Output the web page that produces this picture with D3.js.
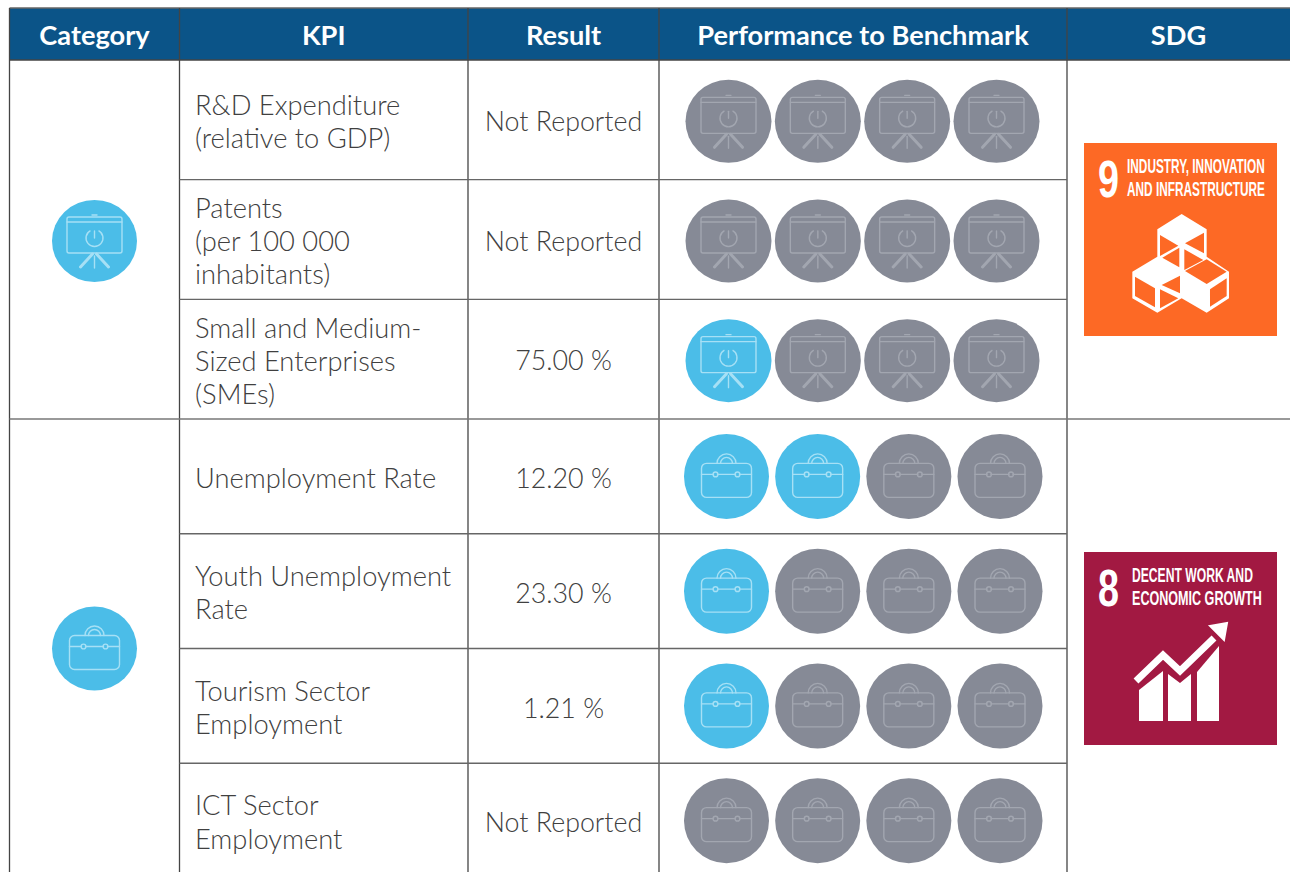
<!DOCTYPE html>
<html>
<head>
<meta charset="utf-8">
<style>
    html, body { margin: 0; padding: 0; background: #fff; overflow: hidden; }
    svg { display: block; font-family: Lato, "Open Sans", sans-serif; }
</style>
<script src="https://cdn.jsdelivr.net/npm/d3@7"></script>
</head>
<body>
<svg width="1290" height="872"></svg>
<script>
var headers = ['Category', 'KPI', 'Result', 'Performance to Benchmark', 'SDG'];

var kpiLines = [
    ['R&D Expenditure', '(relative to GDP)'],
    ['Patents', '(per 100 000', 'inhabitants)'],
    ['Small and Medium-', 'Sized Enterprises', '(SMEs)'],
    ['Unemployment Rate'],
    ['Youth Unemployment', 'Rate'],
    ['Tourism Sector', 'Employment'],
    ['ICT Sector', 'Employment']
];
var kpiResults = ['Not Reported', 'Not Reported', '75.00 %', '12.20 %', '23.30 %', '1.21 %', 'Not Reported'];
var kpiScores = [0, 0, 1, 2, 1, 1, 0];
var kpiGroups = [0, 0, 0, 1, 1, 1, 1];

var groupIcons = ['screen', 'briefcase'];
var sdgNumbers = ['9', '8'];
var sdgTitles = [
    ['INDUSTRY, INNOVATION', 'AND INFRASTRUCTURE'],
    ['DECENT WORK AND', 'ECONOMIC GROWTH']
];
var sdgColors = ['#fd6925', '#a21942'];
var ratingSlots = [0, 1, 2, 3];

var colEdges = [9.5, 179.5, 468, 659, 1067, 1290];
var headerTop = 8, headerBottom = 60;
var groupEdges = [[60, 419], [419, 878]];

var blue = '#4bbde8', grey = '#868a96', inkColor = '#404040', lineColor = '#444';
var circleRx = [43, 42.5], circleRy = [41.5, 42.5];
var kpiShift = [10, 11.2], resultShift = [9.5, 11.8];

var svg = d3.select('svg');

// one y scale per block of rows, the blocks are not the same row height
var yScales = groupEdges.map(function (range, g) {
    var rows = d3.range(kpiGroups.length).filter(function (i) { return kpiGroups[i] === g; });
    return d3.scaleBand().domain(rows).range(range);
});
var slotX = [
    d3.scalePoint().domain(ratingSlots).range([728.5, 996.5]),
    d3.scalePoint().domain(ratingSlots).range([726.5, 1000])
];
var slotYOffset = [1.5, 0];

function rowMid(i) {
    var y = yScales[kpiGroups[i]];
    return y(i) + y.bandwidth() / 2 + slotYOffset[kpiGroups[i]];
}
function groupMid(g) {
    return (groupEdges[g][0] + groupEdges[g][1]) / 2;
}

// squeeze a text to a given width, the tiles use a condensed face we do not have
function fitWidth(sel, width) {
    sel.each(function () {
        var el = d3.select(this);
        var natural = this.getComputedTextLength();
        el.attr('transform', 'translate(' + el.attr('data-x') + ',' + el.attr('data-y') + ') scale(' + width / natural + ',1)');
    });
}

// header band
svg.append('rect')
    .attr('x', colEdges[0]).attr('y', headerTop)
    .attr('width', 1290 - colEdges[0]).attr('height', headerBottom - headerTop)
    .attr('fill', '#0b5488');

svg.selectAll('.head').data(headers).enter().append('text')
    .attr('class', 'head')
    .attr('x', function (d, i) { return (colEdges[i] + colEdges[i + 1]) / 2; })
    .attr('y', 45)
    .attr('text-anchor', 'middle')
    .attr('fill', '#fff')
    .style('font-size', '27.2px')
    .style('font-weight', 700)
    .text(function (d) { return d; });

// grid
var grid = svg.append('g').attr('fill', 'none').attr('stroke', lineColor).attr('stroke-width', 1.3);
grid.append('path').attr('d', 'M' + colEdges[0] + ',' + headerTop + 'H1290').attr('stroke', '#666');
grid.append('path').attr('d', 'M' + colEdges[0] + ',' + headerBottom + 'H1290');
colEdges.slice(0, 5).forEach(function (x) {
    grid.append('path').attr('d', 'M' + x + ',' + headerTop + 'V872');
});
kpiGroups.forEach(function (g, i) {
    if (i === 0) return;
    var y = yScales[g](i);
    if (kpiGroups[i - 1] !== g) {
        grid.append('path').attr('d', 'M' + colEdges[0] + ',' + y + 'H1290').attr('stroke', '#777');
    } else {
        grid.append('path').attr('d', 'M' + colEdges[1] + ',' + y + 'H' + colEdges[4]).attr('stroke', '#666');
    }
});

// KPI labels
kpiLines.forEach(function (lines, i) {
    var base = rowMid(i) + kpiShift[kpiGroups[i]] - (lines.length - 1) * 16.5;
    svg.append('g').selectAll('text').data(lines).enter().append('text')
        .attr('x', 195)
        .attr('y', function (d, k) { return base + k * 33.2; })
        .attr('fill', inkColor)
        .style('font-size', '27.3px')
        .style('font-weight', 300)
        .text(function (d) { return d; });
});

svg.selectAll('.result').data(kpiResults).enter().append('text')
    .attr('class', 'result')
    .attr('x', (colEdges[2] + colEdges[3]) / 2)
    .attr('y', function (d, i) { return rowMid(i) + resultShift[kpiGroups[i]]; })
    .attr('text-anchor', 'middle')
    .attr('fill', inkColor)
    .style('font-size', '26.8px')
    .style('font-weight', 300)
    .text(function (d) { return d; });

function drawIcon(sel, kind, stroke) {
    var g = sel.append('g').attr('fill', 'none').attr('stroke', stroke).attr('stroke-width', 1.4)
        .attr('stroke-linecap', 'round');
    if (kind === 'screen') {
        g.append('rect').attr('x', -27.5).attr('y', -24).attr('width', 55).attr('height', 36).attr('rx', 2);
        g.append('path').attr('d', 'M-27.5,-19H27.5M-2.5,-26H2.5');
        g.append('path').attr('d', d3.arc()({ innerRadius: 8.5, outerRadius: 8.5, startAngle: 0.5, endAngle: 2 * Math.PI - 0.5 }))
            .attr('transform', 'translate(0,-3)');
        g.append('path').attr('d', 'M0,-10V-3');
        g.append('path').attr('d', 'M-2,13L-14,26M2,13L14,26').attr('stroke-width', 3);
        g.append('path').attr('d', 'M0,15V27');
    } else {
        g.append('rect').attr('x', -25).attr('y', -13).attr('width', 50).attr('height', 34).attr('rx', 5);
        g.append('path').attr('d', 'M-25,-2H-13M-9,-2H9M13,-2H25');
        g.append('circle').attr('cx', -11).attr('cy', -2).attr('r', 2.4);
        g.append('circle').attr('cx', 11).attr('cy', -2).attr('r', 2.4);
        g.append('path').attr('d', 'M-9.5,-13A9.5,9.5 0 0 1 9.5,-13M-6,-13A6,6 0 0 1 6,-13');
    }
}

// rating circles
kpiScores.forEach(function (score, i) {
    var g = kpiGroups[i];
    var cells = svg.append('g').selectAll('g').data(ratingSlots).enter().append('g')
        .attr('transform', function (s) { return 'translate(' + slotX[g](s) + ',' + rowMid(i) + ')'; });
    cells.append('ellipse')
        .attr('rx', circleRx[g])
        .attr('ry', circleRy[g])
        .attr('fill', function (s) { return s < score ? blue : grey; });
    cells.each(function (s) {
        drawIcon(d3.select(this), groupIcons[g], s < score ? '#a6e0f5' : '#a2a6b0');
    });
});

// category badges
groupIcons.forEach(function (kind, g) {
    var c = svg.append('g')
        .attr('transform', 'translate(' + (colEdges[0] + colEdges[1]) / 2 + ',' + (groupMid(g) + slotYOffset[g]) + ')');
    c.append('ellipse').attr('rx', 42.5).attr('ry', circleRy[g] - 0.5).attr('fill', blue);
    drawIcon(c, kind, '#a6e0f5');
});

// SDG tiles
var tileSize = 193, tileX = 1084;
var titleX = [43, 48], titleWidths = [[138, 138], [121, 130]];
sdgNumbers.forEach(function (num, g) {
    var top = groupMid(g) - tileSize / 2;
    var t = svg.append('g').attr('transform', 'translate(' + tileX + ',' + top + ')');
    t.append('rect').attr('width', tileSize).attr('height', tileSize).attr('fill', sdgColors[g]);
    t.append('text')
        .attr('data-x', 14).attr('data-y', 54)
        .attr('fill', '#fff')
        .style('font-family', '"Liberation Sans Narrow", "Liberation Sans", sans-serif')
        .style('font-weight', 700).style('font-size', '51px')
        .text(num)
        .call(fitWidth, 21);
    titleWidths[g].forEach(function (w, k) {
        t.append('text')
            .attr('data-x', titleX[g])
            .attr('data-y', 29.5 + k * 23.5)
            .attr('fill', '#fff')
            .style('font-family', '"Liberation Sans Narrow", "Liberation Sans", sans-serif')
            .style('font-weight', 700).style('font-size', '20px')
            .text(sdgTitles[g][k])
            .call(fitWidth, w);
    });
    if (g === 0) drawCubes(t, sdgColors[g]); else drawGrowth(t);
});

function drawCubes(t, holeColor) {
    var g = t.append('g').attr('transform', 'translate(41,67) scale(0.3333)');
    var outline = [[170,12],[245,58],[245,140],[312,185],[312,265],[245,308],[170,265],[97,308],[22,265],[22,185],[97,140],[97,58]];
    var holes = [
        [[105,75],[160,107],[105,138]],
        [[112,143],[163,113],[163,172]],
        [[180,100],[237,68],[237,130]],
        [[178,118],[235,150],[178,180]],
        [[180,183],[245,148],[305,185],[245,222]],
        [[255,238],[305,205],[305,258],[255,290]],
        [[30,200],[90,235],[90,292],[30,258]],
        [[110,225],[165,197],[165,250]],
        [[105,238],[160,265],[105,295]]
    ];
    var line = d3.line();
    g.append('path').attr('d', line(outline) + 'Z').attr('fill', '#fff');
    g.selectAll('.hole').data(holes).enter().append('path')
        .attr('class', 'hole')
        .attr('d', function (d) { return line(d) + 'Z'; })
        .attr('fill', holeColor);
}

function drawGrowth(t) {
    var g = t.append('g').attr('fill', '#fff');
    g.append('path').attr('d', 'M55,169V138L79,119V169Z');
    g.append('path').attr('d', 'M84,169V122L96,131L107,122V169Z');
    g.append('path').attr('d', 'M113,169V120L135,94V169Z');
    g.append('path').attr('d', 'M52,129L79,103L96,119L130,86').attr('fill', 'none').attr('stroke', '#fff').attr('stroke-width', 7);
    g.append('path').attr('d', 'M126,74L143,71L140,88Z').attr('stroke', '#fff').attr('stroke-width', 2);
}
</script>
</body>
</html>
